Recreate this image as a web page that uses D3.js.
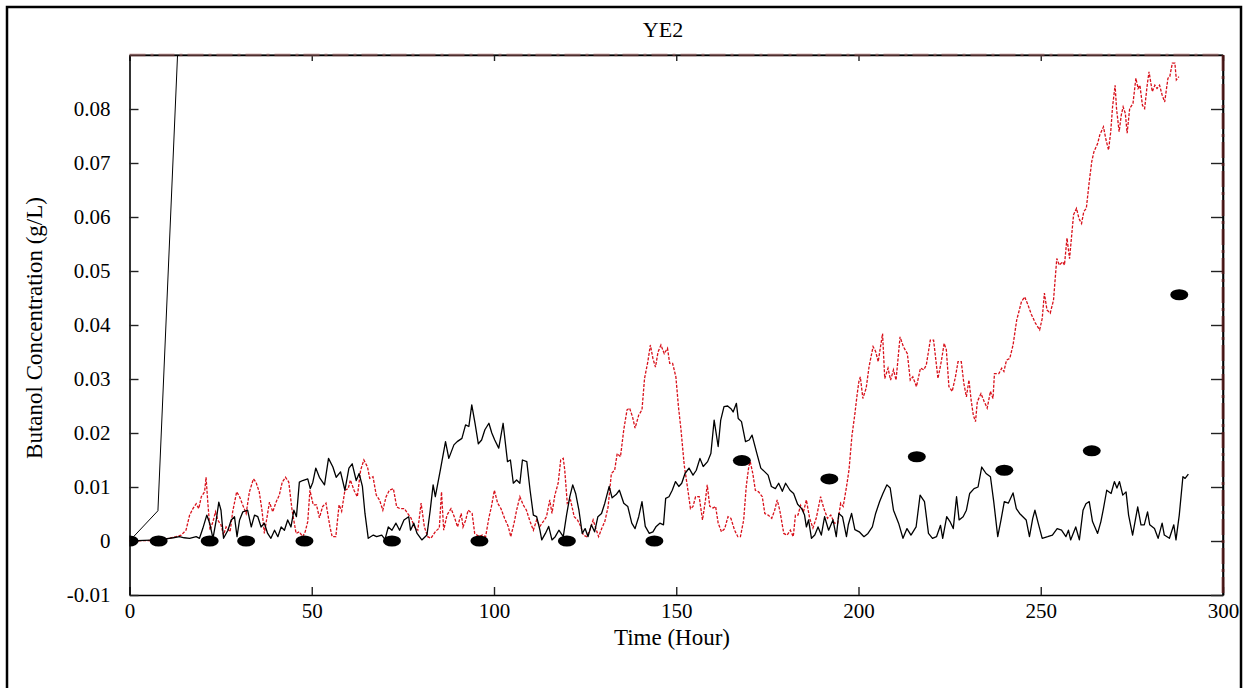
<!DOCTYPE html>
<html>
<head>
<meta charset="utf-8">
<script src="https://cdn.jsdelivr.net/npm/d3@7/dist/d3.min.js"></script>
<style>
  html, body { margin: 0; padding: 0; background: #fff; }
  svg { display: block; font-family: "Liberation Serif", "Times New Roman", serif; }
  svg text { font-family: "Liberation Serif", "Times New Roman", serif; }
</style>
</head>
<body>
<div id="chart"></div>
<script>
// Measured black series (hours, g/L)
var blackTime = [0,4,8,10,12,13.7,15,16.5,18.3,19.2,20.1,21.2,22,22.9,23.8,24.5,25.1,25.8,27,27.9,28.8,29.5,30.2,31.1,32.4,33.4,34.3,35.2,36.1,37,37.9,38.8,39.8,40.7,41.6,42.5,43.4,44.3,45.1,45.8,46.6,47.5,48.9,49.6,50.3,51.1,52.1,53.5,54.6,55.8,56.7,57.9,59.1,60.2,61.1,62.2,63,63.9,64.6,65.5,66.9,67.8,69.2,70.1,71,72,73.1,74.1,75.3,76.6,77.1,78,78.9,80.2,81.6,82.5,83.3,83.9,85.3,86.7,87.6,89,89.9,91.2,92.2,93.1,93.9,94.8,95.7,96.6,97.5,98.6,99.4,100.2,101.3,102.5,103.7,104.5,105.3,106.2,107.1,107.8,109,109.9,110.8,111.7,112.6,113.1,114.1,115,115.9,116.8,117.8,119,119.9,120.8,121.6,122.4,123.3,124.2,125,125.8,126.7,127.6,128.5,129.5,130.4,131.6,132.4,133.5,134.4,135.6,136.7,137.8,138.7,139.7,140.6,141.5,142.6,143.6,144.5,145.5,146.5,147.1,148,148.9,149.8,150.7,151.5,152.4,153.5,154.6,155.5,156.5,157.4,158.6,159.5,160.4,161.5,162.2,163.1,164.1,165,165.6,166.5,167,167.9,169,170,170.8,172,173.2,174.3,175.2,176.1,177.2,178.1,179.1,180,181.2,182.2,183.3,184.4,185.2,185.7,186.3,187.1,188,188.9,189.8,190.7,191.8,193,193.9,194.6,195.6,196.7,197.2,198.1,199,200.2,201.5,202.6,203.8,204.7,205.8,206.7,207.8,208.7,209.6,211,212.2,213.3,214.4,215.8,216.9,218.1,219.2,220.3,221.4,222.5,223.1,224.2,225.1,226,226.9,227.6,228.7,229.6,230.5,231.7,232.8,233.8,235,236.2,237.1,238.2,239.1,240,241.1,242.4,243.3,244.2,245.1,246,246.9,247.8,248.4,249.3,250.4,251.9,253.2,254.5,255.7,256.9,257.6,258.2,259.6,260.6,261.6,262.4,263.3,264.2,265.6,266.5,267.2,268.1,269.3,270.2,270.9,271.6,272.5,273.4,274.1,275.2,276.6,277.5,278.4,279.3,279.9,281.2,282.2,283.3,283.9,285.3,286.5,287.1,288,289,289.6,290.5];
var blackValue = [0,0.0001,0.0002,0.0004,0.0006,0.0008,0.0006,0.0005,0.0008,0.0005,0.0023,0.0048,0.0033,0.0005,0.0039,0.0072,0.0057,0.0005,0.002,0.0039,0.0045,0.0008,0.0039,0.0054,0.0057,0.0026,0.0048,0.0045,0.0026,0.0033,0.0014,0.0005,0.002,0.0008,0.0026,0.002,0.0039,0.0026,0.0057,0.0045,0.0109,0.0112,0.0115,0.0097,0.0109,0.0135,0.0118,0.0104,0.0153,0.0137,0.0118,0.0128,0.0094,0.0135,0.0143,0.0112,0.0125,0.0101,0.0051,0.0005,0.0011,0.0008,0.0011,0.0003,0.0026,0.002,0.0033,0.002,0.0039,0.0045,0.002,0.0033,0.0014,0.0002,0.0011,0.0057,0.0104,0.0082,0.0132,0.0184,0.0153,0.0178,0.0184,0.019,0.0215,0.0212,0.0252,0.0218,0.018,0.0187,0.0206,0.0218,0.02,0.0187,0.0172,0.0218,0.0147,0.015,0.0107,0.0113,0.0107,0.015,0.0147,0.0094,0.0048,0.0045,0.002,0.0002,0.0014,0.0027,0.0002,0.0008,0.002,0.0008,0.0048,0.0082,0.0104,0.0088,0.0057,0.0014,0.0023,0.0008,0.003,0.0017,0.0045,0.0051,0.007,0.0101,0.008,0.0086,0.0094,0.007,0.0064,0.0033,0.0023,0.0045,0.0073,0.0027,0.0014,0.0017,0.0027,0.0033,0.003,0.0079,0.0082,0.0094,0.011,0.0101,0.0107,0.0125,0.0135,0.0122,0.0131,0.0153,0.0138,0.0147,0.0162,0.0224,0.0175,0.0224,0.0249,0.025,0.0245,0.0239,0.0255,0.0227,0.0221,0.0184,0.0187,0.0196,0.0165,0.0135,0.0128,0.0122,0.0101,0.0097,0.0107,0.0092,0.0107,0.0094,0.0088,0.0068,0.006,0.0048,0.0026,0.0039,0.0005,0.0011,0.0026,0.0011,0.0045,0.002,0.0039,0.0008,0.0051,0.0045,0.0008,0.003,0.0051,0.0021,0.0017,0.0008,0.0014,0.0026,0.0051,0.0073,0.0088,0.0104,0.0098,0.0057,0.0033,0.0005,0.0023,0.0011,0.0026,0.0085,0.0073,0.0014,0.0005,0.0008,0.0029,0.0005,0.0045,0.0036,0.0023,0.0082,0.0039,0.0045,0.0057,0.0088,0.0097,0.01,0.0137,0.0125,0.0119,0.0073,0.0008,0.0039,0.0073,0.007,0.0089,0.006,0.0051,0.0045,0.0039,0.0008,0.0042,0.0057,0.0033,0.0005,0.0008,0.0011,0.0023,0.002,0.0008,0.002,0.0002,0.0026,0.0002,0.0057,0.0069,0.0073,0.0036,0.0014,0.0036,0.006,0.0094,0.0088,0.011,0.0098,0.011,0.0085,0.0091,0.0048,0.0011,0.0063,0.003,0.003,0.0054,0.003,0.0023,0.0005,0.0033,0.0011,0.0005,0.003,0.0002,0.0048,0.0119,0.0116,0.0124];

// Measured red series (hours, g/L)
var redTime = [0,6,10,12.8,14.2,15.5,16.5,17.4,18.3,19,19.7,20.6,21,21.5,22.1,22.9,23.6,24.2,25.1,25.8,26.5,27.6,28.3,29.4,30.2,31.1,32,32.9,34,34.7,35.6,36.4,37,37.6,38.4,39.3,40.2,41.1,41.9,42.8,43.7,44.6,45.7,46.6,47.5,48.2,48.9,49.5,50.4,51.3,52.1,53,53.9,55,55.6,56.6,57.5,58.2,59.1,60,60.6,61.6,62.5,63.4,64.3,65.3,65.9,66.8,67.7,68.6,69.5,70.4,71.3,72.4,73.3,74.2,75.4,76.3,77.2,78.2,79.1,80,80.9,81.8,82.7,84,85,85.6,86.2,87.1,88.2,89.1,90,91,91.5,92.2,92.9,94,94.7,95.9,96.8,97.7,98.6,99.3,100.1,101,101.9,102.9,103.9,104.6,105.5,106.2,107.1,108,108.9,109.9,110.8,111.7,112.6,113.5,114.4,115.3,115.9,116.7,117.6,118.3,119,119.4,120.1,121,122,122.9,123.8,124.5,125.4,126.3,127.2,127.9,128.7,129.6,130.4,131.3,132.2,133.1,133.8,134.7,135.6,136.5,137.2,138,138.7,139.7,140.6,141.3,142.2,142.9,143.6,144.3,145,145.8,146.7,147.6,148.2,149,149.9,150.6,151.3,152.2,153.2,153.9,154.6,155.3,156.3,157.2,158,158.5,159.2,160.1,160.8,161.5,162.4,163.3,164.2,165,166,166.9,167.6,168.5,169.2,169.9,170.3,171,171.7,172.6,173.6,174.3,175.2,176.2,177,177.7,178.4,179.5,180.4,181.3,182.1,182.7,183.4,184.1,184.9,185.7,186.6,187.5,188.4,189.6,190.5,191.5,192.4,193.4,194.3,195.1,195.8,196.7,197.4,198.2,199,199.6,200.1,200.5,201.2,202.1,202.9,204,204.7,205.4,206.6,207.2,208.1,208.8,209.6,210.3,211.4,212.3,213.4,214.2,214.9,215.9,217,217.9,218.6,219.7,220.6,221.8,222.7,223.5,224.1,224.8,225.7,226.6,227.3,228.2,228.9,229.6,230.3,230.9,231.5,232.1,232.6,233.6,234.5,235.3,236.2,236.9,237.3,238.5,239.3,239.9,240.6,241.5,242.4,243.4,244.7,245.6,246.5,247.4,248.5,249.7,250.4,251,251.7,252.6,253.5,254.4,255.1,256,256.5,257.2,257.9,259,259.8,260.5,261.2,261.8,262.5,263.3,264,264.6,265.6,266.2,267.2,267.9,268.6,269.2,269.7,270.4,270.8,271.5,272.1,272.6,273.2,273.7,274.4,275.3,276.1,276.7,277.2,277.9,278.5,279.2,279.7,280.6,281.3,281.9,282.6,283.3,284,284.9,285.4,286.1,286.8,287.2,287.9];
var redValue = [0,0.0001,0.0004,0.0008,0.0011,0.002,0.0048,0.006,0.0069,0.006,0.0082,0.0091,0.0118,0.007,0.002,0.0036,0.0054,0.0039,0.003,0.0011,0.0026,0.0017,0.0054,0.0091,0.0082,0.0066,0.0051,0.0091,0.0115,0.0109,0.0091,0.0054,0.0014,0.0039,0.0072,0.0054,0.0072,0.0085,0.0109,0.0118,0.0109,0.0057,0.0014,0.0017,0.0008,0.0017,0.0036,0.0094,0.0067,0.0067,0.0043,0.0064,0.007,0.0026,0.0008,0.0008,0.0067,0.0055,0.0094,0.0097,0.0113,0.0094,0.0082,0.0131,0.015,0.0137,0.0116,0.0119,0.0085,0.0076,0.0057,0.0082,0.0094,0.0097,0.0063,0.006,0.006,0.0051,0.0043,0.0026,0.002,0.007,0.0026,0.0008,0.0005,0.0018,0.0024,0.0091,0.002,0.0048,0.006,0.0045,0.0026,0.0051,0.0026,0.0038,0.0057,0.0051,0.0014,0.0008,0.0011,0.0008,0.0043,0.0064,0.0094,0.007,0.006,0.0042,0.0027,0.0008,0.0033,0.0057,0.0082,0.0067,0.0057,0.0036,0.002,0.0039,0.0027,0.0036,0.0045,0.0076,0.0051,0.0085,0.0107,0.015,0.0153,0.0132,0.007,0.0076,0.0045,0.0039,0.0027,0.0011,0.0008,0.002,0.0039,0.0024,0.0008,0.0024,0.0036,0.0063,0.0125,0.0131,0.0162,0.0156,0.0206,0.0243,0.0246,0.023,0.0209,0.0233,0.0243,0.0301,0.0332,0.0363,0.0338,0.0322,0.035,0.0363,0.0347,0.0357,0.0329,0.0329,0.0304,0.0249,0.0206,0.014,0.0094,0.006,0.0064,0.0082,0.0082,0.0039,0.0075,0.0104,0.0064,0.0061,0.0064,0.0033,0.0017,0.0023,0.0045,0.0042,0.002,0.0008,0.0008,0.0039,0.0101,0.0138,0.0147,0.0125,0.0094,0.0091,0.0082,0.0051,0.0048,0.0042,0.0057,0.0076,0.0057,0.0014,0.0011,0.002,0.0008,0.0048,0.0048,0.0066,0.0054,0.0076,0.0042,0.0024,0.0042,0.0082,0.006,0.0042,0.0048,0.0033,0.0033,0.007,0.0064,0.01,0.0132,0.0195,0.0235,0.027,0.0295,0.0304,0.0264,0.0283,0.0323,0.036,0.0351,0.0332,0.0384,0.0301,0.032,0.0298,0.0317,0.0298,0.0378,0.036,0.0347,0.0298,0.0304,0.0286,0.032,0.0317,0.0326,0.0372,0.0372,0.0301,0.0332,0.0366,0.0354,0.0286,0.0277,0.0304,0.0332,0.0332,0.0292,0.0267,0.0298,0.0261,0.0233,0.0221,0.0258,0.0273,0.0258,0.0246,0.0277,0.0264,0.031,0.031,0.032,0.0314,0.0335,0.0338,0.0363,0.0409,0.0443,0.0452,0.0437,0.042,0.0404,0.0391,0.0412,0.0459,0.0428,0.0422,0.0446,0.0523,0.0511,0.0517,0.0511,0.0561,0.0523,0.0604,0.0616,0.0597,0.0588,0.061,0.0616,0.0665,0.0703,0.0721,0.0736,0.0752,0.0767,0.0743,0.0724,0.0758,0.0804,0.0844,0.08,0.0758,0.0789,0.0804,0.0792,0.0755,0.0801,0.081,0.0857,0.0838,0.0844,0.0807,0.0801,0.0844,0.0869,0.0832,0.0844,0.0838,0.0844,0.0826,0.0813,0.0857,0.086,0.0885,0.0885,0.0854,0.086];

// Steep black line at the start
var rampTime = [0, 7.8, 13.5];
var rampValue = [0, 0.0056, 0.095];

// Sampled points (ellipses)
var sampleTime = [0, 8, 22, 32, 48, 72, 96, 120, 144, 168, 192, 216, 240, 264, 288];
var sampleValue = [0, 0, 0, 0, 0, 0, 0, 0, 0, 0.0149, 0.0115, 0.0156, 0.0131, 0.0167, 0.0456];

var xTicks = [0, 50, 100, 150, 200, 250, 300];
var yTicks = [-0.01, 0, 0.01, 0.02, 0.03, 0.04, 0.05, 0.06, 0.07, 0.08];

var serif = "'Liberation Serif', 'Times New Roman', serif";

var width = 1248;
var height = 688;
var margins = { top: 55, right: 25, bottom: 93, left: 129.5 };
var chartWidth = width - margins.left - margins.right;
var chartHeight = height - margins.top - margins.bottom;

var svg = d3.select("#chart").append("svg").attr("width", width).attr("height", height);

// Outer frame
svg.append("rect")
  .attr("x", 7).attr("y", 7)
  .attr("width", 1234).attr("height", 700)
  .attr("fill", "none").attr("stroke", "#000").attr("stroke-width", 2.5);

svg.append("text")
  .attr("x", 663).attr("y", 37)
  .attr("text-anchor", "middle")
  .attr("font-family", serif)
  .style("font-size", "22px")
  .text("YE2");

var xScale = d3.scaleLinear().domain([0, 300]).range([0, chartWidth]);
var yScale = d3.scaleLinear().domain([-0.01, 0.09]).range([chartHeight, 0]);

var chartElement = svg.append("g")
  .attr("transform", `translate(${margins.left},${margins.top})`);

chartElement.append("clipPath").attr("id", "plot-clip")
  .append("rect").attr("width", chartWidth).attr("height", chartHeight);

// Axes with inward ticks
var fmtY = (d) => (d === 0 ? "0" : (d < 0 ? "-" : "") + Math.abs(d).toFixed(2));

chartElement.append("g")
  .attr("class", "x axis")
  .attr("transform", `translate(0,${chartHeight})`)
  .call(d3.axisBottom(xScale).tickValues(xTicks).tickSizeInner(-8).tickSizeOuter(0).tickPadding(8));

chartElement.append("g")
  .attr("class", "x axis top")
  .call(d3.axisTop(xScale).tickValues(xTicks).tickSizeInner(-6).tickSizeOuter(0).tickFormat(""));

chartElement.append("g")
  .attr("class", "y axis")
  .call(d3.axisLeft(yScale).tickValues(yTicks).tickSizeInner(-9).tickSizeOuter(0).tickPadding(19).tickFormat(fmtY));

chartElement.append("g")
  .attr("class", "y axis right")
  .attr("transform", `translate(${chartWidth},0)`)
  .call(d3.axisRight(yScale).tickValues(yTicks).tickSizeInner(-12).tickSizeOuter(0).tickFormat(""));

chartElement.selectAll(".axis").attr("font-family", serif).attr("font-size", 21);
chartElement.selectAll(".axis path").attr("stroke", "#000").attr("stroke-width", 1.6);
chartElement.selectAll(".axis line").attr("stroke", "#222").attr("stroke-width", 1.4);
chartElement.selectAll(".axis text").attr("fill", "#000");

// Plot area edges (top and right) with the faint dashed overlay
chartElement.append("line")
  .attr("x1", 0).attr("x2", chartWidth).attr("y1", 0).attr("y2", 0)
  .attr("stroke", "#000").attr("stroke-width", 1.2);
chartElement.append("line")
  .attr("x1", 0).attr("x2", chartWidth).attr("y1", 0).attr("y2", 0)
  .attr("stroke", "rgba(170,100,100,0.45)").attr("stroke-width", 3)
  .attr("stroke-dasharray", "16,5,3,5");
chartElement.append("line")
  .attr("x1", chartWidth).attr("x2", chartWidth).attr("y1", 0).attr("y2", chartHeight)
  .attr("stroke", "#000").attr("stroke-width", 1.5);
chartElement.append("line")
  .attr("x1", chartWidth).attr("x2", chartWidth).attr("y1", 0).attr("y2", chartHeight)
  .attr("stroke", "rgba(110,30,30,0.6)").attr("stroke-width", 3)
  .attr("stroke-dasharray", "16,5,3,5");

var plot = chartElement.append("g").attr("clip-path", "url(#plot-clip)");

var line = d3.line()
  .x((d) => xScale(d[0]))
  .y((d) => yScale(d[1]));

var zip = (ts, vs) => ts.map((t, i) => [t, vs[i]]);

plot.append("path")
  .datum(zip(rampTime, rampValue))
  .attr("d", line)
  .attr("fill", "none")
  .attr("stroke", "#000")
  .attr("stroke-width", 1);

plot.append("path")
  .datum(zip(redTime, redValue))
  .attr("d", line)
  .attr("fill", "none")
  .attr("stroke", "#d8101a")
  .attr("stroke-width", 1.3)
  .attr("stroke-dasharray", "3,1.5");

plot.append("path")
  .datum(zip(blackTime, blackValue))
  .attr("d", line)
  .attr("fill", "none")
  .attr("stroke", "#000")
  .attr("stroke-width", 1.3)
  .attr("stroke-linejoin", "round");

// Sample ellipses
plot.append("g")
  .selectAll("ellipse")
  .data(zip(sampleTime, sampleValue))
  .enter()
  .append("ellipse")
  .attr("cx", (d) => xScale(d[0]))
  .attr("cy", (d) => yScale(d[1]))
  .attr("rx", 9)
  .attr("ry", 5.5)
  .attr("fill", "#000");

// Axis titles
svg.append("text")
  .attr("transform", "translate(42,328) rotate(-90)")
  .attr("text-anchor", "middle")
  .attr("font-family", serif)
  .style("font-size", "23px")
  .text("Butanol Concentration (g/L)");

svg.append("text")
  .attr("x", 672).attr("y", 645)
  .attr("text-anchor", "middle")
  .attr("font-family", serif)
  .style("font-size", "23px")
  .text("Time (Hour)");
</script>
</body>
</html>
